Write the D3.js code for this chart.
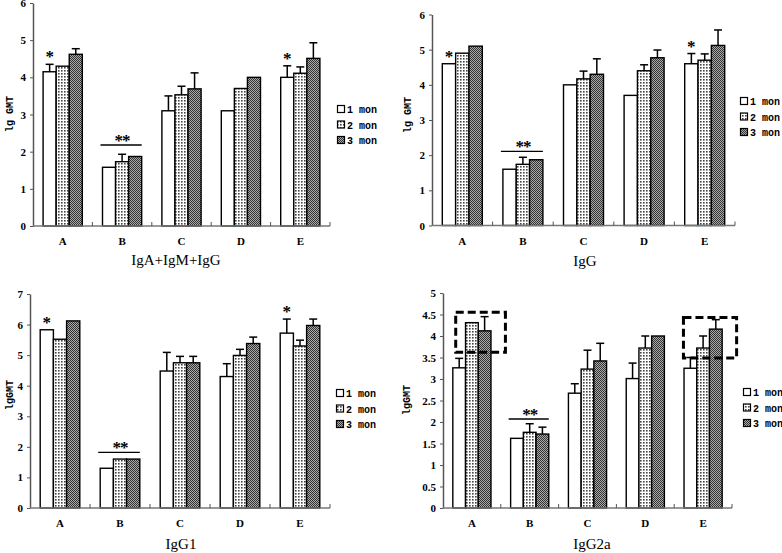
<!DOCTYPE html>
<html>
<head>
<meta charset="utf-8">
<script src="https://cdn.jsdelivr.net/npm/d3@7"></script>
<style>
  html, body { margin: 0; padding: 0; background: #fff; }
  svg { display: block; }
</style>
</head>
<body>
<svg id="chart" width="782" height="553"></svg>
<script>
// ---------------- DATA ----------------
const categories = ["A", "B", "C", "D", "E"];
const seriesNames = ["1 mon", "2 mon", "3 mon"];

// Panel 1: IgA+IgM+IgG
const total_mean1 = [4.15, 1.58, 3.10, 3.10, 4.00];
const total_mean2 = [4.30, 1.73, 3.53, 3.70, 4.11];
const total_mean3 = [4.62, 1.87, 3.69, 4.00, 4.51];
const total_sd1 = [0.20, 0, 0.40, 0, 0.31];
const total_sd2 = [0, 0.20, 0.23, 0, 0.17];
const total_sd3 = [0.15, 0, 0.43, 0, 0.42];

// Panel 2: IgG
const igg_mean1 = [4.60, 1.60, 4.00, 3.70, 4.60];
const igg_mean2 = [4.90, 1.74, 4.17, 4.40, 4.70];
const igg_mean3 = [5.10, 1.87, 4.30, 4.77, 5.12];
const igg_sd1 = [0, 0, 0, 0, 0.29];
const igg_sd2 = [0, 0.20, 0.22, 0.17, 0.18];
const igg_sd3 = [0, 0, 0.44, 0.22, 0.44];

// Panel 3: IgG1
const igg1_mean1 = [5.83, 1.30, 4.48, 4.30, 5.72];
const igg1_mean2 = [5.52, 1.60, 4.75, 4.99, 5.30];
const igg1_mean3 = [6.12, 1.60, 4.75, 5.38, 5.97];
const igg1_sd1 = [0, 0, 0.61, 0.42, 0.46];
const igg1_sd2 = [0, 0, 0.21, 0.20, 0.19];
const igg1_sd3 = [0, 0, 0.21, 0.21, 0.21];

// Panel 4: IgG2a
const igg2a_mean1 = [3.26, 1.62, 2.67, 3.01, 3.25];
const igg2a_mean2 = [4.31, 1.76, 3.23, 3.72, 3.72];
const igg2a_mean3 = [4.12, 1.72, 3.42, 4.00, 4.16];
const igg2a_sd1 = [0.22, 0, 0.22, 0.36, 0.25];
const igg2a_sd2 = [0, 0.20, 0.44, 0.28, 0.28];
const igg2a_sd3 = [0.33, 0.16, 0.41, 0, 0.22];

// Tick labels
const ticks_total = [0, 1, 2, 3, 4, 5, 6];
const ticks_igg = [0, 1, 2, 3, 4, 5, 6];
const ticks_igg1 = [0, 1, 2, 3, 4, 5, 6, 7];
const ticks_igg2a = [0, 0.5, 1, 1.5, 2, 2.5, 3, 3.5, 4, 4.5, 5];

// Significance marks
const singleStarCats = ["A", "E"];        // "*" over 1 mon bar (panels 1-3)
const doubleStarCat = "B";                 // "**" over group B
const doubleStarLine = [2.18, 2.11, 1.82, 2.07]; // value of "**" line per panel

// Dashed highlight boxes (panel 4), in value units
const igg2a_boxes = [
  { cat: "A", from: 0.22, to: 1.08, low: 3.62, high: 4.55 },
  { cat: "E", from: 0.16, to: 1.08, low: 3.49, high: 4.43 }
];

// ---------------- LAYOUT ----------------
const panels = [
  { title: "IgA+IgM+IgG", ylab: "lg GMT", means: [total_mean1, total_mean2, total_mean3], sds: [total_sd1, total_sd2, total_sd3],
    ticks: ticks_total, ymax: 6, left: 33, right: 330, base: 226, top: 3,
    titleX: 176, titleY: 265, ylabX: 10, ylabY: 114, legX: 341, legY: 109, stars: true, line: doubleStarLine[0] },
  { title: "IgG", ylab: "lg GMT", means: [igg_mean1, igg_mean2, igg_mean3], sds: [igg_sd1, igg_sd2, igg_sd3],
    ticks: ticks_igg, ymax: 6, left: 432, right: 735, base: 225.5, top: 14.5,
    titleX: 585, titleY: 266, ylabX: 408, ylabY: 115, legX: 744, legY: 101, stars: true, line: doubleStarLine[1] },
  { title: "IgG1", ylab: "lgGMT", means: [igg1_mean1, igg1_mean2, igg1_mean3], sds: [igg1_sd1, igg1_sd2, igg1_sd3],
    ticks: ticks_igg1, ymax: 7, left: 30, right: 330, base: 508, top: 294,
    titleX: 181, titleY: 549, ylabX: 10, ylabY: 395, legX: 340, legY: 393, stars: true, line: doubleStarLine[2] },
  { title: "IgG2a", ylab: "lgGMT", means: [igg2a_mean1, igg2a_mean2, igg2a_mean3], sds: [igg2a_sd1, igg2a_sd2, igg2a_sd3],
    ticks: ticks_igg2a, ymax: 5, left: 443, right: 732, base: 508, top: 293,
    titleX: 592, titleY: 549, ylabX: 407, ylabY: 400, legX: 747, legY: 392, stars: false, line: doubleStarLine[3],
    boxes: igg2a_boxes }
];

const svg = d3.select("#chart");
svg.append("rect").attr("width", 782).attr("height", 553).attr("fill", "#fff");

// ---------------- PATTERNS ----------------
const defs = svg.append("defs");
const dots = defs.append("pattern").attr("id", "dots").attr("patternUnits", "userSpaceOnUse")
  .attr("width", 3).attr("height", 3);
dots.append("rect").attr("width", 3).attr("height", 3).attr("fill", "#fff");
dots.append("rect").attr("x", 1).attr("y", 1).attr("width", 1.6).attr("height", 1.6).attr("fill", "#444");

const checker = defs.append("pattern").attr("id", "checker").attr("patternUnits", "userSpaceOnUse")
  .attr("width", 2).attr("height", 2);
checker.append("rect").attr("width", 2).attr("height", 2).attr("fill", "#aaa");
checker.append("rect").attr("x", 0).attr("y", 0).attr("width", 1).attr("height", 1).attr("fill", "#333");
checker.append("rect").attr("x", 1).attr("y", 1).attr("width", 1).attr("height", 1).attr("fill", "#333");

const fills = ["#fff", "url(#dots)", "url(#checker)"];

const tickFont = "'Liberation Serif', 'DejaVu Serif', serif";

function drawPanel(p) {
  const g = svg.append("g");
  const y = d3.scaleLinear().domain([0, p.ymax]).range([p.base, p.top]);
  const x = d3.scaleBand().domain(categories).range([p.left, p.right]).padding(0);
  const bw = x.bandwidth();
  const barW = bw * 0.22;
  const pad = (bw - 3 * barW) / 2;
  const xs = d3.scaleBand().domain([0, 1, 2]).range([pad, bw - pad]).padding(0);

  // bars
  p.means.forEach((arr, si) => {
    g.selectAll(null).data(arr).enter().append("rect")
      .attr("x", (d, i) => x(categories[i]) + xs(si))
      .attr("y", d => y(d))
      .attr("width", xs.bandwidth())
      .attr("height", d => y(0) - y(d))
      .attr("fill", fills[si])
      .attr("stroke", "#000")
      .attr("stroke-width", 1.4);
  });

  // error bars
  p.means.forEach((arr, si) => {
    const sd = p.sds[si];
    arr.forEach((v, i) => {
      if (!sd[i]) return;
      const cx = x(categories[i]) + xs(si) + xs.bandwidth() / 2;
      g.append("line").attr("x1", cx).attr("x2", cx)
        .attr("y1", y(v)).attr("y2", y(v + sd[i]))
        .attr("stroke", "#000").attr("stroke-width", 1.5);
      g.append("line").attr("x1", cx - 4).attr("x2", cx + 4)
        .attr("y1", y(v + sd[i])).attr("y2", y(v + sd[i]))
        .attr("stroke", "#000").attr("stroke-width", 1.5);
    });
  });

  // y axis
  const yAxis = d3.axisLeft(y).tickValues(p.ticks).tickSize(3).tickSizeOuter(0).tickPadding(4)
    .tickFormat(d => String(d));
  const ya = g.append("g").attr("transform", `translate(${p.left},0)`).call(yAxis);
  ya.select(".domain").attr("stroke", "#555").attr("stroke-width", 1.5);
  ya.selectAll(".tick line").attr("stroke", "#555");
  ya.selectAll(".tick text").attr("font-family", tickFont).attr("font-weight", "bold")
    .attr("font-size", 11).attr("fill", "#000");

  // x axis
  g.append("line").attr("x1", p.left).attr("x2", p.right).attr("y1", p.base).attr("y2", p.base)
    .attr("stroke", "#777").attr("stroke-width", 1.6);
  g.selectAll(null).data(categories).enter().append("line")
    .attr("x1", c => x(c) + bw).attr("x2", c => x(c) + bw)
    .attr("y1", p.base).attr("y2", p.base - 4)
    .attr("stroke", "#555").attr("stroke-width", 1);
  g.selectAll(null).data(categories).enter().append("text")
    .attr("x", c => x(c) + bw / 2).attr("y", p.base + 19)
    .attr("text-anchor", "middle")
    .attr("font-family", tickFont).attr("font-weight", "bold").attr("font-size", 11)
    .text(c => c);

  // y label
  g.append("text").attr("transform", `translate(${p.ylabX},${p.ylabY}) rotate(-90)`)
    .attr("text-anchor", "middle").attr("dominant-baseline", "central")
    .attr("font-family", "'Liberation Mono', 'DejaVu Sans Mono', monospace").attr("font-weight", "bold")
    .attr("font-size", 10).text(p.ylab);

  // title
  g.append("text").attr("x", p.titleX).attr("y", p.titleY).attr("text-anchor", "middle")
    .attr("font-family", "'Liberation Serif', 'DejaVu Serif', serif").attr("font-size", 15)
    .text(p.title);

  // single stars
  if (p.stars) {
    singleStarCats.forEach(c => {
      const i = categories.indexOf(c);
      const topVal = p.means[0][i] + p.sds[0][i];
      const cx = x(c) + xs(0) + xs.bandwidth() / 2;
      g.append("text").attr("x", cx).attr("y", y(topVal) - 9 + 7)
        .attr("text-anchor", "middle").attr("font-family", tickFont).attr("font-weight", "bold")
        .attr("font-size", 17).text("*");
    });
  }

  // double star over B
  const bx0 = x(doubleStarCat) + xs(0);
  const bx1 = x(doubleStarCat) + xs(2) + xs.bandwidth();
  g.append("line").attr("x1", bx0 - 2).attr("x2", bx1).attr("y1", y(p.line)).attr("y2", y(p.line))
    .attr("stroke", "#000").attr("stroke-width", 1.3);
  g.append("text").attr("x", (bx0 + bx1) / 2).attr("y", y(p.line) - 6 + 7)
    .attr("text-anchor", "middle").attr("font-family", tickFont).attr("font-weight", "bold")
    .attr("font-size", 17).attr("letter-spacing", -1).text("**");

  // dashed boxes
  (p.boxes || []).forEach(b => {
    const x0 = x(b.cat) + b.from * bw, x1 = x(b.cat) + b.to * bw;
    g.append("rect").attr("x", x0).attr("y", y(b.high)).attr("width", x1 - x0)
      .attr("height", y(b.low) - y(b.high))
      .attr("fill", "none").attr("stroke", "#000").attr("stroke-width", 3)
      .attr("stroke-dasharray", "8,4");
  });

  // legend
  seriesNames.forEach((s, si) => {
    const ly = p.legY + si * 15.5;
    g.append("rect").attr("x", p.legX - 3.5).attr("y", ly - 3.5).attr("width", 7).attr("height", 7)
      .attr("fill", fills[si]).attr("stroke", "#000").attr("stroke-width", 1.2);
    g.append("text").attr("x", p.legX + 6).attr("y", ly + 4)
      .attr("font-family", "'Liberation Mono', 'DejaVu Sans Mono', monospace").attr("font-weight", "bold")
      .attr("font-size", 10).text(s);
  });
}

panels.forEach(drawPanel);
</script>
</body>
</html>
